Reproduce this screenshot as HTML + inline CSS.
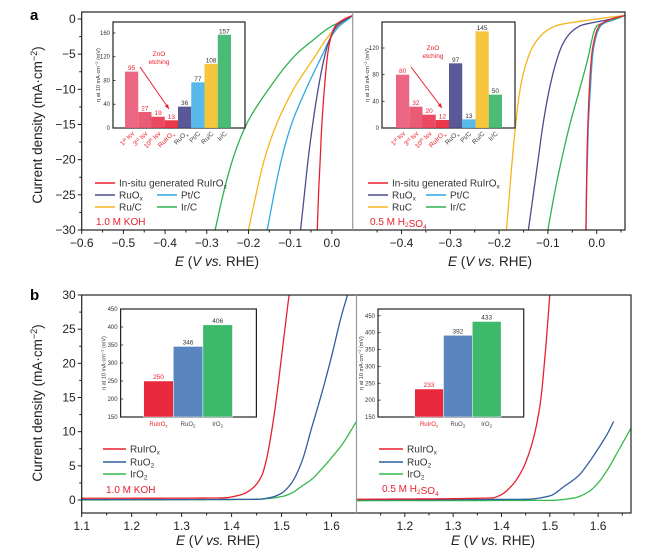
<!DOCTYPE html>
<html><head><meta charset="utf-8">
<style>
html,body{margin:0;padding:0;background:#fff;}
svg{display:block;font-family:"Liberation Sans",sans-serif;}
</style></head>
<body>
<svg id="fig" width="649" height="558" viewBox="0 0 649 558"></svg>
<script>
// ---------- data ----------
const jLevelsA = [0.5, 0, -1, -3, -5, -10, -15, -20, -25, -30];
const herKohRed = [0.05,0.03,0.008,-0.004,-0.01,-0.018,-0.024,-0.028,-0.032,-0.035];
const herKohNavy = [0.05,0.035,0.012,-0.006,-0.016,-0.033,-0.046,-0.057,-0.066,-0.075];
const herKohBlue = [0.05,0.04,0.018,-0.006,-0.022,-0.062,-0.097,-0.121,-0.139,-0.155];
const herKohOrange = [0.05,0.04,0.014,-0.015,-0.037,-0.092,-0.133,-0.162,-0.182,-0.2];
const herKohGreen = [0.05,0.037,0.0,-0.045,-0.085,-0.152,-0.205,-0.238,-0.261,-0.28];
const herAcidRed = [0.058,0.03,0.005,-0.005,-0.01,-0.015,-0.018,-0.02,-0.021,-0.022];
const herAcidBlue = [0.058,0.035,0.008,-0.003,-0.008,-0.013,-0.017,-0.019,-0.021,-0.022];
const herAcidGreen = [0.058,0.04,0.0,-0.01,-0.016,-0.035,-0.055,-0.072,-0.087,-0.1];
const herAcidNavy = [0.058,0.03,-0.035,-0.065,-0.078,-0.097,-0.11,-0.12,-0.13,-0.14];
const herAcidOrange = [0.058,0.0,-0.085,-0.122,-0.138,-0.157,-0.166,-0.173,-0.179,-0.185];

const oerKohRedE = [1.1,1.38,1.42,1.44,1.46,1.47,1.48,1.49,1.5,1.515];
const oerKohRedJ = [0.25,0.3,0.8,1.6,3.5,6,10,15,21,30];
const oerKohBlueE = [1.1,1.45,1.48,1.5,1.52,1.54,1.56,1.58,1.6,1.62,1.632];
const oerKohBlueJ = [0.05,0.1,0.4,1,2.5,5.5,10.5,15.5,21,27,30];
const oerKohGreenE = [1.1,1.45,1.5,1.52,1.54,1.56,1.58,1.6,1.62,1.65];
const oerKohGreenJ = [0,0.1,0.5,1,2,3,4.5,6.2,8,11.5];
const oerAcidRedE = [1.1,1.38,1.4,1.42,1.44,1.46,1.48,1.49,1.5];
const oerAcidRedJ = [0.1,0.3,0.8,2,4,7.5,14,21,30];
const oerAcidBlueE = [1.1,1.45,1.5,1.53,1.56,1.58,1.6,1.62,1.632];
const oerAcidBlueJ = [0.05,0.1,0.6,2,3.6,5.4,7.5,9.8,11.5];
const oerAcidGreenE = [1.1,1.5,1.55,1.58,1.6,1.62,1.64,1.668];
const oerAcidGreenJ = [-0.1,-0.05,0.3,1.2,2.5,4.5,7,10.5];

const insetHerKohValues = [95,27,19,13,36,77,108,157];
const insetHerAcidValues = [80,32,20,12,97,13,145,50];
const insetOerKohValues = [250,346,406];
const insetOerAcidValues = [233,392,433];

const aYTicks = [0,-5,-10,-15,-20,-25,-30];
const aLeftXTicks = [-0.6,-0.5,-0.4,-0.3,-0.2,-0.1,0.0];
const aRightXTicks = [-0.4,-0.3,-0.2,-0.1,0.0];
const bYTicks = [0,5,10,15,20,25,30];
const bLeftXTicks = [1.1,1.2,1.3,1.4,1.5,1.6];
const bRightXTicks = [1.2,1.3,1.4,1.5,1.6];

// ---------- helpers ----------
const NS = "http://www.w3.org/2000/svg";
const svg = document.getElementById('fig');
function mk(tag, attrs, parent){ const e=document.createElementNS(NS,tag); for(const k in attrs) e.setAttribute(k,attrs[k]); (parent||svg).appendChild(e); return e; }
function txt(x,y,s,attrs,parent){ const t=mk('text',Object.assign({x:x,y:y},attrs||{}),parent); t.textContent=s; return t; }
function lin(d0,d1,r0,r1){ return v=> r0+(v-d0)*(r1-r0)/(d1-d0); }
// monotone cubic (Fritsch-Carlson) interpolation of y(x), x strictly increasing
function monotone(X,Y){
  const n=X.length, d=[], m=new Array(n);
  for(let i=0;i<n-1;i++) d.push((Y[i+1]-Y[i])/(X[i+1]-X[i]));
  m[0]=d[0]; m[n-1]=d[n-2];
  for(let i=1;i<n-1;i++){ if(d[i-1]*d[i]<=0) m[i]=0; else { const w1=2*(X[i+1]-X[i])+(X[i]-X[i-1]), w2=(X[i+1]-X[i])+2*(X[i]-X[i-1]); m[i]=(w1+w2)/(w1/d[i-1]+w2/d[i]); } }
  return x=>{
    let i=0; while(i<n-2 && x>X[i+1]) i++;
    const h=X[i+1]-X[i], t=(x-X[i])/h, t2=t*t, t3=t2*t;
    return (2*t3-3*t2+1)*Y[i]+(t3-2*t2+t)*h*m[i]+(-2*t3+3*t2)*Y[i+1]+(t3-t2)*h*m[i+1];
  };
}
function sampledPath(indep,dep,toPt){
  const lo=indep[0], hi=indep[indep.length-1], f=monotone(indep,dep);
  let d=''; const N=300;
  for(let k=0;k<=N;k++){ const u=lo+(hi-lo)*k/N; const p=toPt(u,f(u)); d+=(k?'L':'M')+p[0].toFixed(2)+','+p[1].toFixed(2); }
  return d;
}
let clipId=0;
function clip(x0,y0,x1,y1){ const id='c'+(clipId++); const cp=mk('clipPath',{id:id}); mk('rect',{x:x0,y:y0,width:x1-x0,height:y1-y0},cp); return 'url(#'+id+')'; }

const C = {red:'#e8202e', navy:'#4b4b8f', sky:'#2ea8e0', orange:'#f5b41c', green:'#2db34f', bblue:'#2f5f9e', bgreen:'#35b84c'};

// ---------- panel labels ----------
let t;
t=txt(30,20,'a',{'font-size':15,'font-weight':'bold'});
 
t=txt(30,300,'b',{'font-size':15,'font-weight':'bold'});
 

// ---------- panel a ----------
const aTop=12, aBot=230;
const ayA = lin(0,-30,19,230);
const axL = lin(-0.6,0.05,81.7,352.7);
const axR = lin(-0.5,0.058,352.7,625);
const jAsc = jLevelsA.slice().reverse();

function drawHer(series, xs, clipUrl, name){
  series.forEach(s=>{
    const eAsc=s.vals.slice().reverse();
    const d=sampledPath(jAsc,eAsc,(j,e)=>[xs(e),ayA(j)]);
    const p=mk('path',{d:d,fill:'none',stroke:s.col,'stroke-width':1.3,'clip-path':clipUrl});
    
    
  });
}
drawHer([{vals:herKohGreen,col:C.green,n:'ir-c'},{vals:herKohOrange,col:C.orange,n:'ru-c'},{vals:herKohBlue,col:C.sky,n:'pt-c'},{vals:herKohNavy,col:C.navy,n:'ruox'},{vals:herKohRed,col:C.red,n:'ruirox'}], axL, clip(81.7,aTop,352.7,aBot), 'her-koh-curve');
drawHer([{vals:herAcidOrange,col:C.orange,n:'ru-c'},{vals:herAcidNavy,col:C.navy,n:'ruox'},{vals:herAcidGreen,col:C.green,n:'ir-c'},{vals:herAcidBlue,col:C.sky,n:'pt-c'},{vals:herAcidRed,col:C.red,n:'ruirox'}], axR, clip(352.7,aTop,625,aBot), 'her-acid-curve');

function frame(x0,y0,x1,y1,xdiv,name){
  const r=mk('rect',{x:x0,y:y0,width:x1-x0,height:y1-y0,fill:'none',stroke:'#222','stroke-width':1.2});
   
  const d=mk('line',{x1:xdiv,x2:xdiv,y1:y0,y2:y1,stroke:'#999','stroke-width':1.2});
   
}
frame(81.7,aTop,625,aBot,352.7,'panel-a');

function yAxis(ticks,ys,x0,name){
  ticks.forEach(v=>{
    mk('line',{x1:x0-4,x2:x0,y1:ys(v),y2:ys(v),stroke:'#222','stroke-width':1});
    const l=txt(x0-6,ys(v)+4,String(v).replace('-','\u2212'),{'font-size':12,'text-anchor':'end',fill:'#222'});
     
  });
  for(let i=0;i<ticks.length-1;i++){ const m=(ticks[i]+ticks[i+1])/2; mk('line',{x1:x0-2.5,x2:x0,y1:ys(m),y2:ys(m),stroke:'#222','stroke-width':1}); }
}
function xAxis(ticks,xs,y0,name,minorLeft,minorRight){
  ticks.forEach(v=>{
    mk('line',{x1:xs(v),x2:xs(v),y1:y0,y2:y0+4,stroke:'#222','stroke-width':1});
    const l=txt(xs(v),y0+17,v.toFixed(1).replace('-','\u2212'),{'font-size':12,'text-anchor':'middle',fill:'#222'});
     
  });
  const step=ticks[1]-ticks[0];
  for(let v=ticks[0]-step/2; v<=ticks[ticks.length-1]+step/2+1e-9; v+=step){
    const x=xs(v); if(x>minorLeft+1 && x<minorRight-1) mk('line',{x1:x,x2:x,y1:y0,y2:y0+2.5,stroke:'#222','stroke-width':1});
  }
}
yAxis(aYTicks,ayA,81.7,'panel-a-y');
xAxis(aLeftXTicks,axL,aBot,'panel-a-left-x',81.7,352.7);
xAxis(aRightXTicks,axR,aBot,'panel-a-right-x',352.7,625);

function yTitle(cx,cy,name){
  const g=mk('text',{x:0,y:0,transform:'translate('+cx+','+cy+') rotate(-90)','font-size':13.5,'text-anchor':'middle',fill:'#222'});
  g.innerHTML='Current density (mA\u00b7cm<tspan dy="-5" font-size="9">\u22122</tspan><tspan dy="5">)</tspan>';
   
}
function xTitle(cx,y,name){
  const g=mk('text',{x:cx,y:y,'font-size':13.5,'text-anchor':'middle',fill:'#222'});
  g.innerHTML='<tspan font-style="italic">E</tspan> (<tspan font-style="italic">V vs.</tspan> RHE)';
   
}
yTitle(42,125,'panel-a-y-axis-title');
yTitle(42,403,'panel-b-y-axis-title');
xTitle(217,266,'panel-a-left-x-axis-title');
xTitle(490,266,'panel-a-right-x-axis-title');
xTitle(218,545,'panel-b-left-x-axis-title');
xTitle(493,545,'panel-b-right-x-axis-title');

// ---------- legends ----------
function legendItem(x,y,col,html,name,len){
  const l=mk('line',{x1:x,x2:x+(len||20),y1:y,y2:y,stroke:col,'stroke-width':1.6});
   
  const tt=mk('text',{x:x+(len||20)+4,y:y+3.5,'font-size':10,fill:'#333'});
  tt.innerHTML=html;
   
}
const sub=s=>'<tspan dy="2" font-size="6.5">'+s+'</tspan><tspan dy="-2"></tspan>';
legendItem(95,183,C.red,'In-situ generated RuIrO'+sub('x'),'legend-a-left-ruirox');
legendItem(95,195,C.navy,'RuO'+sub('x'),'legend-a-left-ruox');
legendItem(157,195,C.sky,'Pt/C','legend-a-left-ptc');
legendItem(95,207,C.orange,'Ru/C','legend-a-left-ruc');
legendItem(157,207,C.green,'Ir/C','legend-a-left-irc');
t=txt(96,225,'1.0 M KOH',{'font-size':10,fill:C.red});  
legendItem(368,183,C.red,'In-situ generated RuIrO'+sub('x'),'legend-a-right-ruirox');
legendItem(368,195,C.navy,'RuO'+sub('x'),'legend-a-right-ruox');
legendItem(426,195,C.sky,'Pt/C','legend-a-right-ptc');
legendItem(368,207,C.orange,'RuC','legend-a-right-ruc');
legendItem(426,207,C.green,'Ir/C','legend-a-right-irc');
t=mk('text',{x:370,y:225,'font-size':10,fill:C.red}); t.innerHTML='0.5 M H'+sub('2')+'SO'+sub('4');
 

// ---------- HER insets ----------
const herBarCols=['#ea5a78','#e84d6a','#e83a55','#e8283c',C.navy,'#4ab4e8','#f5c22e','#3cb56a'];
const herLabels=[['1','st',' lsv'],['3','rd',' lsv'],['10','th',' lsv'],['RuIrO','x',''],['RuO','x',''],['Pt/C','',''],['Ru/C','',''],['Ir/C','','']];
function herInset(vals,x0,x1,y0,y1,vmax,ticks,barX0,name,arrow,etch){
  const r=mk('rect',{x:x0,y:y0,width:x1-x0,height:y1-y0,fill:'#fff',stroke:'#222','stroke-width':1.2});
   
  const ys=lin(0,vmax,y1,y0);
  ticks.forEach(v=>{ mk('line',{x1:x0,x2:x0+2.5,y1:ys(v),y2:ys(v),stroke:'#222','stroke-width':0.8});
    const l=txt(x0-3,ys(v)+2,String(v),{'font-size':6,'text-anchor':'end',fill:'#333'});
      });
  const bw=13.25;
  vals.forEach((v,i)=>{
    const b=mk('rect',{x:barX0+i*bw,y:ys(v),width:bw,height:y1-ys(v),fill:herBarCols[i],opacity:0.92});
     
    const vl=txt(barX0+i*bw+bw/2,ys(v)-1.5,String(v),{'font-size':6.5,'text-anchor':'middle',fill:i<4?C.red:'#333'});
     
    const cx=barX0+i*bw+bw/2+3, cy=y1+6;
    const lab=mk('text',{x:0,y:0,transform:'translate('+cx+','+cy+') rotate(-45)','font-size':6.5,'text-anchor':'end',fill:i<4?C.red:'#444'});
    const L=herLabels[i];
    lab.innerHTML=L[0]+(L[1]?('<tspan dy="'+(i===3||i===4?2:-2)+'" font-size="4.5">'+L[1]+'</tspan><tspan dy="'+(i===3||i===4?-2:2)+'">'+L[2]+'</tspan>'):'');
     
  });
  const yl=mk('text',{x:0,y:0,transform:'translate('+(x0-13)+','+((y0+y1)/2)+') rotate(-90)','font-size':5.5,'text-anchor':'middle',fill:'#333'});
  yl.innerHTML='\u03b7 at 10 mA\u00b7cm<tspan dy="-2" font-size="4">\u22122</tspan><tspan dy="2"> (mV)</tspan>';
   
  const a=mk('line',{x1:arrow[0],y1:arrow[1],x2:arrow[2],y2:arrow[3],stroke:C.red,'stroke-width':1});
   
  const ang=Math.atan2(arrow[3]-arrow[1],arrow[2]-arrow[0]);
  const hx=arrow[2],hy=arrow[3];
  mk('polygon',{points:[hx,hy,hx-5*Math.cos(ang-0.4),hy-5*Math.sin(ang-0.4),hx-5*Math.cos(ang+0.4),hy-5*Math.sin(ang+0.4)].join(','),fill:C.red});
  const e1=txt(etch[0],etch[1],'ZnO',{'font-size':6.5,'text-anchor':'middle',fill:C.red});
   
  txt(etch[0],etch[1]+8,'etching',{'font-size':6.5,'text-anchor':'middle',fill:C.red});
}
herInset(insetHerKohValues,113,245,22,128,178.5,[0,40,80,120,160],125,'inset-her-koh',[140,67,169,109],[159,56]);
herInset(insetHerAcidValues,382,515,22,128,159,[0,40,80,120],396,'inset-her-acid',[411,67,442,108],[433,50]);

// ---------- panel b ----------
const bTop=295, bBot=513;
const byB = lin(0,30,500,295);
const bxL = lin(1.1,1.65,81.7,356.5);
const bxR = lin(1.1,1.668,356.5,631);
function drawOer(E,J,xs,col,clipUrl,name){
  const d=sampledPath(E,J,(e,j)=>[xs(e),byB(j)]);
  const p=mk('path',{d:d,fill:'none',stroke:col,'stroke-width':1.3,'clip-path':clipUrl});
   
}
const cbl=clip(81.7,bTop,356.5,bBot), cbr=clip(356.5,bTop,631,bBot);
drawOer(oerKohGreenE,oerKohGreenJ,bxL,C.bgreen,cbl,'oer-koh-curve-iro2');
drawOer(oerKohBlueE,oerKohBlueJ,bxL,C.bblue,cbl,'oer-koh-curve-ruo2');
drawOer(oerKohRedE,oerKohRedJ,bxL,C.red,cbl,'oer-koh-curve-ruirox');
drawOer(oerAcidGreenE,oerAcidGreenJ,bxR,C.bgreen,cbr,'oer-acid-curve-iro2');
drawOer(oerAcidBlueE,oerAcidBlueJ,bxR,C.bblue,cbr,'oer-acid-curve-ruo2');
drawOer(oerAcidRedE,oerAcidRedJ,bxR,C.red,cbr,'oer-acid-curve-ruirox');
frame(81.7,bTop,631,bBot,356.5,'panel-b');
yAxis(bYTicks,byB,81.7,'panel-b-y');
xAxis(bLeftXTicks,bxL,bBot,'panel-b-left-x',81.7,356.5);
xAxis(bRightXTicks,bxR,bBot,'panel-b-right-x',356.5,631);

legendItem(103,449,C.red,'RuIrO'+sub('x'),'legend-b-left-ruirox',23);
legendItem(103,462,C.bblue,'RuO'+sub('2'),'legend-b-left-ruo2',23);
legendItem(103,474,C.bgreen,'IrO'+sub('2'),'legend-b-left-iro2',23);
t=txt(106,493,'1.0 M KOH',{'font-size':10,fill:C.red});  
legendItem(379,449,C.red,'RuIrO'+sub('x'),'legend-b-right-ruirox',24);
legendItem(379,462,C.bblue,'RuO'+sub('2'),'legend-b-right-ruo2',24);
legendItem(379,474,C.bgreen,'IrO'+sub('2'),'legend-b-right-iro2',24);
t=mk('text',{x:382,y:492,'font-size':10,fill:C.red}); t.innerHTML='0.5 M H'+sub('2')+'SO'+sub('4');
 

// ---------- OER insets ----------
const oerCols=['#e8283c','#5a86c0','#3cb96a'];
const oerLabels=[['RuIrO','x'],['RuO','2'],['IrO','2']];
function oerInset(vals,x0,x1,y0,y1,vmin,vmaxAtTop,barX0,bw,name){
  const r=mk('rect',{x:x0,y:y0,width:x1-x0,height:y1-y0,fill:'#fff',stroke:'#222','stroke-width':1.2});
   
  const ys=lin(vmin,vmaxAtTop,y1,y0);
  [150,200,250,300,350,400,450].forEach(v=>{
    mk('line',{x1:x0,x2:x0+2.5,y1:ys(v),y2:ys(v),stroke:'#222','stroke-width':0.8});
    const l=txt(x0-3,ys(v)+2,String(v),{'font-size':6,'text-anchor':'end',fill:'#333'});
     
  });
  vals.forEach((v,i)=>{
    const b=mk('rect',{x:barX0+i*bw,y:ys(v),width:bw,height:y1-ys(v),fill:oerCols[i],stroke:'#fff','stroke-width':0.5});
     
    const vl=txt(barX0+i*bw+bw/2,ys(v)-2,String(v),{'font-size':6.5,'text-anchor':'middle',fill:i===0?C.red:'#333'});
     
    const lab=mk('text',{x:barX0+i*bw+bw/2,y:y1+9,'font-size':6,'text-anchor':'middle',fill:i===0?C.red:'#444'});
    lab.innerHTML=oerLabels[i][0]+'<tspan dy="1.5" font-size="4.5">'+oerLabels[i][1]+'</tspan>';
     
  });
  const yl=mk('text',{x:0,y:0,transform:'translate('+(x0-15)+','+((y0+y1)/2)+') rotate(-90)','font-size':5.5,'text-anchor':'middle',fill:'#333'});
  yl.innerHTML='\u03b7 at 10 mA\u00b7cm<tspan dy="-2" font-size="4">\u22122</tspan><tspan dy="2"> (mV)</tspan>';
   
}
oerInset(insetOerKohValues,120.6,256.4,309,417,150,450,143.7,29.6,'inset-oer-koh');
oerInset(insetOerAcidValues,378,523.7,309,417,150,470,414.7,28.8,'inset-oer-acid');
</script>
</body></html>
